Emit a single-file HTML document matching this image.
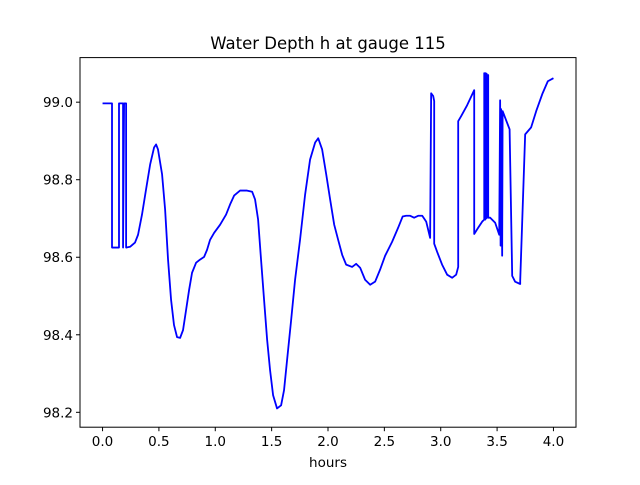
<!DOCTYPE html>
<html><head><meta charset="utf-8"><style>
body{margin:0;background:#fff;}
svg text{font-family:"DejaVu Sans","Liberation Sans",sans-serif;fill:#000;}
</style></head><body>
<svg id="chart" width="640" height="480" xmlns="http://www.w3.org/2000/svg">
<rect width="640" height="480" fill="#fff"/>
<text x="328" y="49" font-size="16.5" text-anchor="middle">Water Depth h at gauge 115</text>
<g id="plot"></g>
<rect x="80" y="57.6" width="496" height="369.6" fill="none" stroke="#000" stroke-width="1"/>
<g id="xt"></g><g id="yt"></g>
<text x="328" y="467" font-size="13.5" text-anchor="middle">hours</text>
</svg>
<script>
const hours=[0,0.084,0.084,0.146,0.146,0.182,0.182,0.191,0.209,0.209,0.244,0.288,0.315,0.350,0.386,0.422,0.457,0.475,0.492,0.528,0.555,0.581,0.608,0.634,0.661,0.688,0.714,0.741,0.768,0.794,0.830,0.865,0.901,0.927,0.954,0.990,1.043,1.096,1.131,1.167,1.220,1.282,1.327,1.353,1.380,1.406,1.433,1.460,1.486,1.513,1.548,1.584,1.610,1.637,1.673,1.708,1.752,1.797,1.841,1.886,1.913,1.948,1.984,2.019,2.055,2.090,2.126,2.161,2.214,2.250,2.285,2.329,2.374,2.418,2.462,2.507,2.569,2.622,2.662,2.693,2.729,2.764,2.800,2.836,2.871,2.906,2.915,2.933,2.942,2.942,2.968,3.012,3.057,3.101,3.137,3.155,3.155,3.181,3.234,3.297,3.297,3.332,3.368,3.386,3.386,3.395,3.399,3.403,3.408,3.412,3.421,3.421,3.439,3.483,3.519,3.527,3.531,3.536,3.545,3.549,3.611,3.611,3.634,3.660,3.705,3.705,3.749,3.802,3.847,3.901,3.950,4.0];
const depth=[98.997,98.997,98.625,98.625,98.997,98.997,98.625,98.997,98.997,98.625,98.627,98.638,98.658,98.710,98.775,98.839,98.883,98.891,98.878,98.814,98.723,98.594,98.490,98.425,98.394,98.392,98.412,98.464,98.516,98.560,98.586,98.594,98.601,98.619,98.645,98.663,98.684,98.710,98.736,98.759,98.772,98.772,98.769,98.749,98.697,98.594,98.490,98.387,98.309,98.244,98.210,98.218,98.257,98.335,98.438,98.542,98.645,98.762,98.852,98.896,98.907,98.878,98.814,98.749,98.684,98.645,98.606,98.581,98.575,98.583,98.573,98.542,98.529,98.537,98.568,98.604,98.640,98.676,98.705,98.707,98.707,98.702,98.707,98.707,98.692,98.650,99.023,99.016,99.003,98.635,98.614,98.581,98.555,98.547,98.555,98.575,98.951,98.964,98.992,99.031,98.660,98.676,98.692,98.697,99.075,98.697,99.075,98.700,99.073,98.702,99.070,98.702,98.702,98.689,98.658,99.005,98.630,98.982,98.604,98.977,98.930,98.930,98.552,98.537,98.531,98.539,98.917,98.935,98.977,99.021,99.054,99.062,99.065];
const xTicks=[0,0.5,1.0,1.5,2.0,2.5,3.0,3.5,4.0];
const yTicks=[98.2,98.4,98.6,98.8,99.0];
const L=80,R=576,T=57.6,B=427.2;
const xmin=-0.2,xmax=4.2,ymin=98.1616,ymax=99.1150;
const sx=v=>L+(v-xmin)/(xmax-xmin)*(R-L);
const sy=v=>B-(v-ymin)/(ymax-ymin)*(B-T);
const NS="http://www.w3.org/2000/svg";
const plot=document.getElementById('plot');
let d=hours.map((h,i)=>(i?'L':'M')+sx(h).toFixed(2)+' '+sy(depth[i]).toFixed(2)).join(' ');
const p=document.createElementNS(NS,'path');
p.setAttribute('d',d);p.setAttribute('fill','none');p.setAttribute('stroke','#0000ff');p.setAttribute('stroke-width','1.8');p.setAttribute('stroke-linejoin','round');


plot.appendChild(p);
const xt=document.getElementById('xt');
xTicks.forEach(v=>{
 const x=sx(v);
 const l=document.createElementNS(NS,'line');
 l.setAttribute('x1',x);l.setAttribute('x2',x);l.setAttribute('y1',B);l.setAttribute('y2',B+4);l.setAttribute('stroke','#000');
 
 
 xt.appendChild(l);
 const t=document.createElementNS(NS,'text');
 t.setAttribute('x',x);t.setAttribute('y',B+19);t.setAttribute('font-size','13.5');t.setAttribute('text-anchor','middle');
 t.textContent=v.toFixed(1);
 
 
 xt.appendChild(t);
});
const yt=document.getElementById('yt');
yTicks.forEach(v=>{
 const y=sy(v);
 const l=document.createElementNS(NS,'line');
 l.setAttribute('x1',L-4);l.setAttribute('x2',L);l.setAttribute('y1',y);l.setAttribute('y2',y);l.setAttribute('stroke','#000');
 
 
 yt.appendChild(l);
 const t=document.createElementNS(NS,'text');
 t.setAttribute('x',L-7);t.setAttribute('y',y+5);t.setAttribute('font-size','13.5');t.setAttribute('text-anchor','end');
 t.textContent=v.toFixed(1);
 
 
 yt.appendChild(t);
});
</script>
</body></html>
